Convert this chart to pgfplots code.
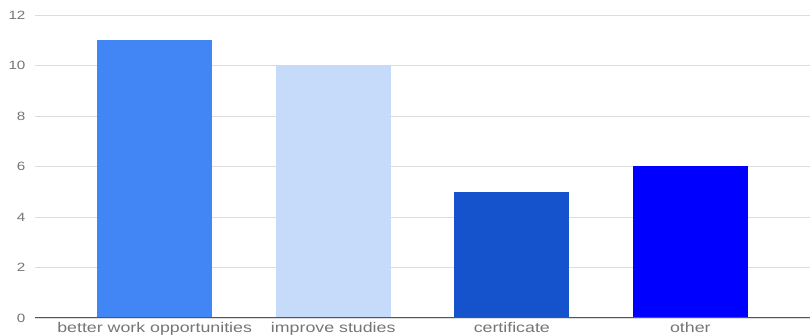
\documentclass[border=0pt]{standalone}
\usepackage{fontspec}
\setmainfont{Liberation Sans}[FakeStretch=1.27]
\usepackage{pgfplots}
\pgfplotsset{compat=1.18}

\definecolor{barA}{HTML}{4285F4}
\definecolor{barB}{HTML}{C6DAFA}
\definecolor{barC}{HTML}{1553CC}
\definecolor{barD}{HTML}{0000FF}
\definecolor{labelgray}{HTML}{757575}
\definecolor{gridgray}{HTML}{DDDDDD}
\definecolor{basegray}{HTML}{555555}

\begin{document}
\begin{tikzpicture}
\useasboundingbox (-35pt,-18pt) rectangle (775pt,318pt);
\begin{axis}[
  at={(0pt,0pt)}, anchor=south west,
  scale only axis,
  width=775pt, height=303pt,
  ymin=0, ymax=12,
  ytick={0,2,...,12},
  xmin=-0.67, xmax=3.67,
  xtick={0,1,2,3},
  xticklabels={better work opportunities, improve studies, certificate, other},
  axis line style={draw=none},
  major tick length=0pt,
  ymajorgrids,
  grid style={gridgray, line width=0.8pt},
  /pgf/number format/assume math mode=true,
  yticklabel style={font=\fontsize{12}{14}\selectfont, text=labelgray, anchor=east, xshift=-6pt},
  xticklabel style={font=\fontsize{14}{16}\selectfont, text=labelgray, anchor=north, yshift=-1pt},
  ybar, bar width=115pt, bar shift=0pt,
  every axis plot/.append style={draw=none},
  clip=false,
]
\addplot[fill=barA] coordinates {(0,11)};
\addplot[fill=barB] coordinates {(1,10)};
\addplot[fill=barC] coordinates {(2,5)};
\addplot[fill=barD] coordinates {(3,6)};
\draw[basegray, line width=1pt] (axis cs:-0.67,0) -- (axis cs:3.67,0);
\end{axis}
\end{tikzpicture}
\end{document}
